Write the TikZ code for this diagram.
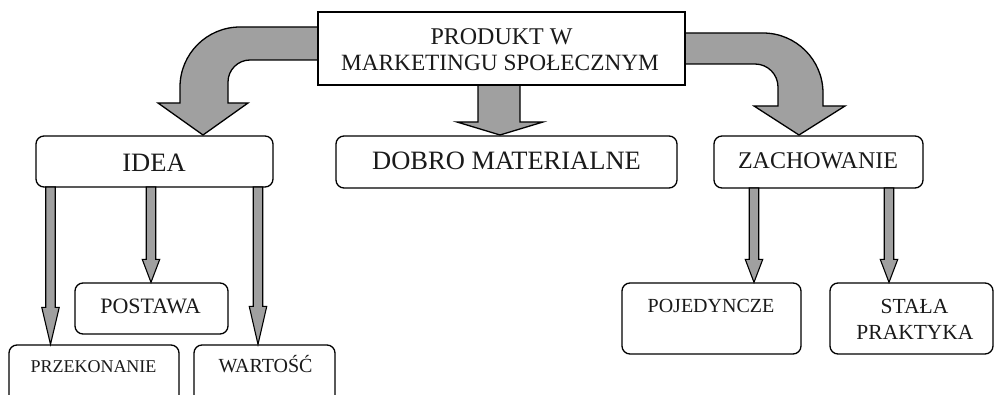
\documentclass[tikz,border=0pt]{standalone}
\usepackage{fontspec}
\setmainfont{Liberation Serif}
\usetikzlibrary{calc}
\definecolor{arrgray}{HTML}{A0A0A0}
\definecolor{txt}{HTML}{1A1A1A}
\tikzset{
 box/.style={draw=black, line width=1.3pt, rounded corners=8pt, fill=white, inner sep=0pt},
 sqbox/.style={draw=black, line width=1.5pt, fill=white, inner sep=0pt},
 lbl/.style={inner sep=0pt, anchor=base, text=txt},
 bigarr/.style={fill=arrgray, draw=black, line width=1.3pt, line join=miter},
 thinarr/.style={fill=arrgray, draw=black, line width=1.1pt},
}
\newcommand\fatdown[5]{\filldraw[thinarr] let \p1=(#1), \p2=(#2) in (\x1-#3,\y1) -- (\x1-#3,\y2+#5) -- (\x1-#4,\y2+#5) -- (\x1,\y2) -- (\x1+#4,\y2+#5) -- (\x1+#3,\y2+#5) -- (\x1+#3,\y1) -- cycle;}
\newcommand\fs[1]{\fontsize{#1}{#1}\selectfont}
\begin{document}
\begin{tikzpicture}[x=1pt,y=-1pt]
\useasboundingbox (0,0) rectangle (994,395);
\clip (0,0) rectangle (994,395);
% big arrows
\filldraw[bigarr] (318,27) -- (240,27) .. controls (206.9,27) and (180,53.9) .. (180,87) -- (180,103) -- (158,103) -- (203,135) -- (248,103) -- (228,103) -- (228,82) .. controls (228,69.9) and (237.9,60) .. (250,60) -- (318,60) -- cycle;
\filldraw[bigarr] (685,33) -- (763,33) .. controls (796.1,33) and (823,59.9) .. (823,93) -- (823,106) -- (845,106) -- (799,135) -- (754,106) -- (778,106) -- (778,87) .. controls (778,74.3) and (767.7,64) .. (755,64) -- (685,64) -- cycle;
\filldraw[bigarr] (478,85) -- (478,122) -- (457,122) -- (500,135) -- (543,122) -- (520,122) -- (520,85) -- cycle;
% boxes
\node[sqbox, minimum width=367pt, minimum height=73pt] (top) at (501.5,48.5) {};
\node[box, minimum width=237pt, minimum height=51pt] (idea) at (154.5,161.5) {};
\node[box, minimum width=341pt, minimum height=52pt] (dobro) at (506.5,162) {};
\node[box, minimum width=209pt, minimum height=52pt] (zach) at (818.5,162) {};
\node[box, minimum width=153pt, minimum height=51pt] (postawa) at (151.5,308.5) {};
\node[box, minimum width=170pt, minimum height=60pt] (przek) at (94,375) {};
\node[box, minimum width=141pt, minimum height=60pt] (wart) at (264.5,375) {};
\node[box, minimum width=179pt, minimum height=71pt] (poj) at (711.5,318.5) {};
\node[box, minimum width=163pt, minimum height=71pt] (stala) at (911.5,318.5) {};
% labels
\node[lbl, font=\fs{24}] (t1) at (501.5,45) {PRODUKT W};
\node[lbl, font=\fs{23.3}] (t2) at (500,71) {MARKETINGU SPOŁECZNYM};
\node[lbl, font=\fs{26.5}] (t3) at (154,172) {IDEA};
\node[lbl, font=\fs{26.5}] (t4) at (506.5,170) {DOBRO MATERIALNE};
\node[lbl, font=\fs{24}] (t5) at (818,169) {ZACHOWANIE};
\node[lbl, font=\fs{22}] (t6) at (150.5,314) {POSTAWA};
\node[lbl, font=\fs{18}] (t7) at (93.5,373) {PRZEKONANIE};
\node[lbl, font=\fs{20}] (t8) at (265.5,373) {WARTOŚĆ};
\node[lbl, font=\fs{20}] (t9) at (711,313) {POJEDYNCZE};
\node[lbl, font=\fs{21.5}] (t10) at (914.5,314) {STAŁA};
\node[lbl, font=\fs{21.5}] (t11) at (915,340) {PRAKTYKA};
% thin arrows
\coordinate (a1) at (50.5,187);
\coordinate (a2) at (151,187);
\coordinate (a3) at (258,187);
\coordinate (a4) at (754,188);
\coordinate (a5) at (889,188);
\fatdown{a1}{a1 |- przek.north}{4.75pt}{8.75pt}{37pt}
\fatdown{a2}{a2 |- postawa.north}{4.75pt}{8.75pt}{23pt}
\fatdown{a3}{a3 |- wart.north}{4.75pt}{8.75pt}{38pt}
\fatdown{a4}{a4 |- poj.north}{4.75pt}{8.75pt}{23pt}
\fatdown{a5}{a5 |- stala.north}{4.75pt}{8.75pt}{23pt}
\end{tikzpicture}
\end{document}
